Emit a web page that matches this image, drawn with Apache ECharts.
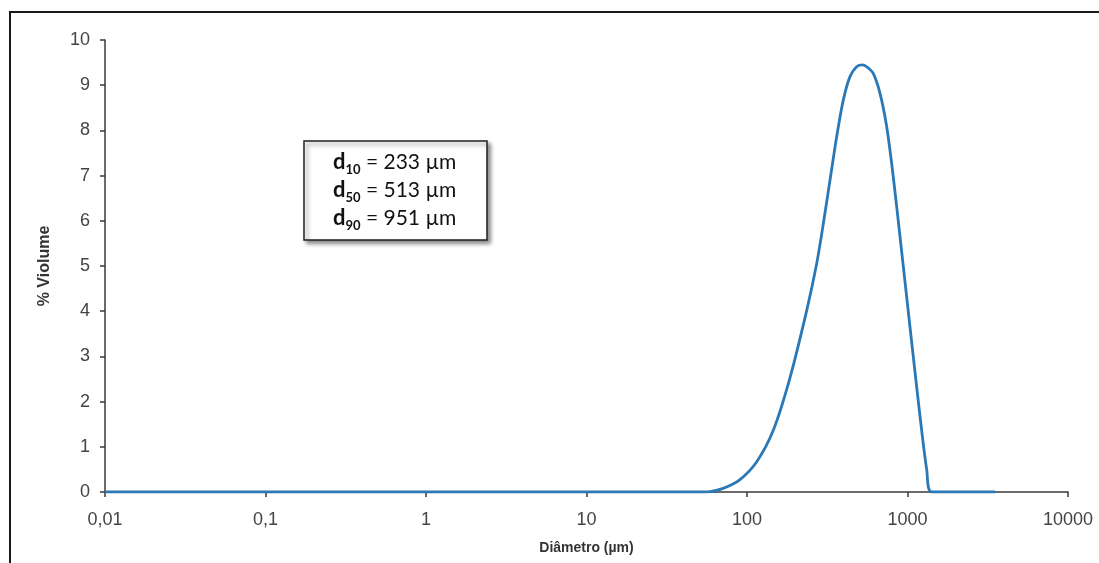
<!DOCTYPE html>
<html lang="pt">
  <head>
    <meta charset="UTF-8" />
    <script src="https://cdn.jsdelivr.net/npm/echarts@6/dist/echarts.min.js"></script>
    <title>Distribuição granulométrica</title>
    <style>
      html, body { margin: 0; padding: 0; background: #fff; }
    </style>
  </head>
  <body>
    <div id="container" style="width: 1099px; height: 563px;"></div>

    <script>
      // diameter (µm) and % volume
      const diameters = [
        0.01, 50, 59, 71, 90, 115, 146, 185, 236, 272, 299, 329, 362, 398,
        438, 482, 526, 570, 612, 674, 742, 815, 898, 988, 1087, 1197, 1318,
        1416, 3508,
      ];
      const volume = [
        0, 0, 0.01, 0.08, 0.27, 0.67, 1.37, 2.52, 4.03, 5.06, 5.94, 6.9, 7.86,
        8.67, 9.19, 9.41, 9.45, 9.38, 9.26, 8.82, 8.08, 6.98, 5.65, 4.32, 2.99,
        1.67, 0.49, 0, 0,
      ];
      const stats = [
        { sub: "10", value: "233 µm" },
        { sub: "50", value: "513 µm" },
        { sub: "90", value: "951 µm" },
      ];

      const myChart = echarts.init(document.getElementById("container"));

      const axisColor = "#3a3a3a";
      const labelColor = "#444";

      const boxText = stats
        .map((s) => "{d|d}{s|" + s.sub + "}{t| = " + s.value + "}")
        .join("\n");

      const option = {
        animation: false,
        grid: { left: 105, right: 31, top: 40, bottom: 71 },
        xAxis: {
          type: "log",
          logBase: 10,
          min: 0.01,
          max: 10000,
          name: "Diâmetro (µm)",
          nameLocation: "middle",
          nameGap: 49,
          nameTextStyle: {
            fontFamily: "Liberation Sans",
            fontWeight: "bold",
            fontSize: 14,
            color: "#333",
          },
          axisLine: { lineStyle: { color: axisColor, width: 1.5 } },
          axisTick: { length: 5, lineStyle: { color: axisColor, width: 1.5 } },
          minorTick: { show: false },
          splitLine: { show: false },
          axisLabel: {
            margin: 19,
            fontFamily: "Liberation Sans",
            fontSize: 18,
            color: labelColor,
            formatter: (v) => String(Number(v.toPrecision(6))).replace(".", ","),
          },
        },
        yAxis: {
          type: "value",
          min: 0,
          max: 10,
          interval: 1,
          name: "% Violume",
          nameLocation: "middle",
          nameGap: 52,
          nameTextStyle: {
            fontFamily: "Liberation Sans",
            fontWeight: "bold",
            fontSize: 16,
            color: "#333",
          },
          axisLine: { show: true, lineStyle: { color: axisColor, width: 1.5 } },
          axisTick: { show: true, length: 5, lineStyle: { color: axisColor, width: 1.5 } },
          splitLine: { show: false },
          axisLabel: {
            margin: 15,
            fontFamily: "Liberation Sans",
            fontSize: 18,
            color: labelColor,
          },
        },
        series: [
          {
            type: "line",
            data: diameters.map((d, i) => [d, volume[i]]),
            smooth: 0.3,
            showSymbol: false,
            lineStyle: { color: "#2a78b6", width: 2.8 },
          },
        ],
        graphic: [
          {
            type: "rect",
            shape: { x: 10, y: 12, width: 1200, height: 700 },
            style: { fill: "none", stroke: "#1a1a1a", lineWidth: 2 },
            silent: true,
          },
          {
            type: "rect",
            shape: { x: 304, y: 141, width: 183, height: 99 },
            style: {
              fill: "#fff",
              stroke: "#222",
              lineWidth: 1.5,
              shadowBlur: 4,
              shadowOffsetX: 3,
              shadowOffsetY: 3,
              shadowColor: "rgba(0,0,0,0.45)",
            },
            silent: true,
          },
          {
            type: "text",
            x: 333,
            y: 148,
            style: {
              text: boxText,
              fill: "#111",
              rich: {
                d: { fontFamily: "Lato", fontWeight: "bold", fontSize: 22, lineHeight: 28, fill: "#111" },
                s: { fontFamily: "Lato", fontWeight: "bold", fontSize: 13, lineHeight: 12, verticalAlign: "bottom", fill: "#111" },
                t: { fontFamily: "Lato", fontSize: 21, lineHeight: 28, fill: "#111" },
              },
            },
            silent: true,
          },
        ],
      };

      myChart.setOption(option);
    </script>
  </body>
</html>
